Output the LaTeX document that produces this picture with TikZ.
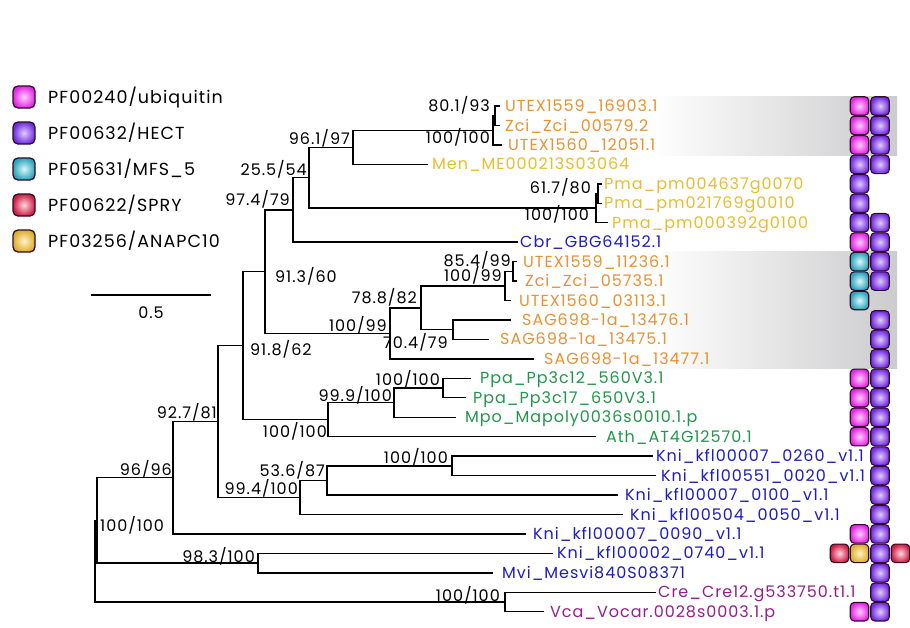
\documentclass[tikz,border=0pt]{standalone}
\usepackage{fontspec}
\setmainfont{Poppins}[LetterSpace=6]
\definecolor{cor}{RGB}{232,146,52}
\definecolor{cye}{RGB}{232,190,48}
\definecolor{cbl}{RGB}{30,30,190}
\definecolor{cgr}{RGB}{35,150,75}
\definecolor{cpu}{RGB}{150,30,140}
\definecolor{bandgray}{RGB}{204,204,206}
\definecolor{bord}{RGB}{45,10,40}
\begin{document}
\begin{tikzpicture}[x=1pt,y=-1pt,
  tree/.style={line width=1.4pt, line cap=rect, black},
  leaf/.style={anchor=base west, inner sep=0pt, font=\fontsize{16}{18}\selectfont},
  blab/.style={anchor=base east, inner sep=0pt, font=\fontsize{16}{18}\selectfont},
  blabl/.style={anchor=base west, inner sep=0pt, font=\fontsize{16}{18}\selectfont},
  dom/.style={draw=bord, line width=1.1pt, rounded corners=4pt, minimum width=18.5pt, minimum height=18.5pt, inner sep=0pt},
  legbox/.style={draw=bord, line width=1.3pt, rounded corners=5pt, minimum width=22pt, minimum height=22pt, inner sep=0pt},
  ubq/.style={inner color={rgb,255:red,255;green,205;blue,255}, outer color={rgb,255:red,228;green,40;blue,228}},
  hect/.style={inner color={rgb,255:red,225;green,205;blue,255}, outer color={rgb,255:red,115;green,45;blue,225}},
  mfs/.style={inner color={rgb,255:red,220;green,248;blue,252}, outer color={rgb,255:red,45;green,165;blue,185}},
  spry/.style={inner color={rgb,255:red,255;green,215;blue,225}, outer color={rgb,255:red,210;green,30;blue,70}},
  apc/.style={inner color={rgb,255:red,255;green,242;blue,205}, outer color={rgb,255:red,222;green,175;blue,45}},
  legtxt/.style={anchor=base west, inner sep=0pt, font=\fontsize{17.5}{19}\selectfont}
]
\fill[white] (0,0) rectangle (910,627);
\path[use as bounding box] (0,0) rectangle (910,627);
% bands
\shade[left color=white, right color=bandgray] (650,96.5) rectangle (897,155);
\shade[left color=white, right color=bandgray] (650,251.5) rectangle (897,368.5);
% legend
\node[legbox, ubq] (lg1) at (24,97) {};
\node[legbox, hect] (lg2) at (24,133) {};
\node[legbox, mfs] (lg3) at (24,169) {};
\node[legbox, spry] (lg4) at (24,205) {};
\node[legbox, apc] (lg5) at (24,241) {};
\node[legtxt] (lt1) at (48,103) {PF00240/ubiquitin};
\node[legtxt] (lt2) at (48,139) {PF00632/HECT};
\node[legtxt] (lt3) at (48,175) {PF05631/MFS\_5};
\node[legtxt] (lt4) at (48,211) {PF00622/SPRY};
\node[legtxt] (lt5) at (48,247) {PF03256/ANAPC10};
% scale bar
\coordinate (sb1) at (91,295);
\coordinate (sb2) at (211,295);
\draw[line width=1.8pt] (sb1) -- (sb2);
\node[anchor=base, inner sep=0pt, font=\fontsize{16}{18}\selectfont] (sbl) at (151,318) {0.5};
% internal nodes
\coordinate (B) at (495,115.7);
\coordinate (A) at (493,130.3);
\coordinate (N96) at (353,147.3);
\coordinate (P61) at (598,193.5);
\coordinate (P100) at (596,208.1);
\coordinate (N25) at (309,177.7);
\coordinate (N97) at (293,209.9);
\coordinate (Z85) at (513,271.3);
\coordinate (Z100) at (505,285.9);
\coordinate (S70) at (453,329.7);
\coordinate (N78) at (421,307.8);
\coordinate (N100L) at (390,333.3);
\coordinate (N91) at (265,271.6);
\coordinate (Ppa) at (443,388.0);
\coordinate (N999) at (394,402.6);
\coordinate (L100) at (328,419.6);
\coordinate (N918) at (243,345.6);
\coordinate (K100) at (452,465.8);
\coordinate (K53) at (327,480.4);
\coordinate (K99) at (300,497.4);
\coordinate (N927) at (218,421.5);
\coordinate (N96b) at (173,477.7);
\coordinate (N983) at (258,563.1);
\coordinate (R100) at (97,520.4);
\coordinate (CV) at (505,602.0);
\coordinate (root) at (95,561.2);
% tips
\coordinate (t1) at (499,106.0);
\coordinate (t2) at (499,125.45);
\coordinate (t3) at (501,144.9);
\coordinate (t4) at (427,164.35);
\coordinate (t5) at (601,183.8);
\coordinate (t6) at (601,203.25);
\coordinate (t7) at (607,222.7);
\coordinate (t8) at (517,242.15);
\coordinate (t9) at (516,261.6);
\coordinate (t10) at (516,281.05);
\coordinate (t11) at (510,300.5);
\coordinate (t12) at (510,319.95);
\coordinate (t13) at (488,339.4);
\coordinate (t14) at (533,358.85);
\coordinate (t15) at (470,378.3);
\coordinate (t16) at (465,397.75);
\coordinate (t17) at (455,417.2);
\coordinate (t18) at (595,436.65);
\coordinate (t19) at (652,456.1);
\coordinate (t20) at (655,475.55);
\coordinate (t21) at (617,495.0);
\coordinate (t22) at (622,514.45);
\coordinate (t23) at (525,533.9);
\coordinate (t24) at (552,553.35);
\coordinate (t25) at (492,572.8);
\coordinate (t26) at (655,592.25);
\coordinate (t27) at (543,611.7);
% branches
\foreach \p/\c in {root/R100, root/CV, R100/N96b, R100/N983, N96b/N927, N96b/t23,
  N927/N918, N927/K99, N918/N91, N918/L100, N91/N97, N91/N100L, N97/N25, N97/t8,
  N25/N96, N25/P100, N96/A, N96/t4, A/B, A/t3, B/t1, B/t2, P100/P61, P100/t7,
  P61/t5, P61/t6, N100L/N78, N100L/t14, N78/Z100, N78/S70, Z100/Z85, Z100/t11,
  Z85/t9, Z85/t10, S70/t12, S70/t13, L100/N999, L100/t18, N999/Ppa, N999/t17,
  Ppa/t15, Ppa/t16, K99/K53, K99/t22, K53/K100, K53/t21, K100/t19, K100/t20,
  N983/t24, N983/t25, CV/t26, CV/t27}
  \draw[tree] (\p) |- (\c);
% leaf labels
\node[leaf, text=cor] (l1) at (505,111.5) {UTEX1559\_16903.1};
\node[leaf, text=cor] (l2) at (505,131) {Zci\_Zci\_00579.2};
\node[leaf, text=cor] (l3) at (508,150.4) {UTEX1560\_12051.1};
\node[leaf, text=cye] (l4) at (432,169.9) {Men\_ME000213S03064};
\node[leaf, text=cye] (l5) at (604,189.3) {Pma\_pm004637g0070};
\node[leaf, text=cye] (l6) at (604,208.8) {Pma\_pm021769g0010};
\node[leaf, text=cye] (l7) at (612,228.2) {Pma\_pm000392g0100};
\node[leaf, text=cbl] (l8) at (520,247.7) {Cbr\_GBG64152.1};
\node[leaf, text=cor] (l9) at (523,267.1) {UTEX1559\_11236.1};
\node[leaf, text=cor] (l10) at (525,286.6) {Zci\_Zci\_05735.1};
\node[leaf, text=cor] (l11) at (519,306) {UTEX1560\_03113.1};
\node[leaf, text=cor] (l12) at (522,325.5) {SAG698-1a\_13476.1};
\node[leaf, text=cor] (l13) at (500,344.9) {SAG698-1a\_13475.1};
\node[leaf, text=cor] (l14) at (544,364.4) {SAG698-1a\_13477.1};
\node[leaf, text=cgr] (l15) at (480,383.8) {Ppa\_Pp3c12\_560V3.1};
\node[leaf, text=cgr] (l16) at (473,403.3) {Ppa\_Pp3c17\_650V3.1};
\node[leaf, text=cgr] (l17) at (465,422.7) {Mpo\_Mapoly0036s0010.1.p};
\node[leaf, text=cgr] (l18) at (606,442.2) {Ath\_AT4G12570.1};
\node[leaf, text=cbl] (l19) at (656,461.6) {Kni\_kfl00007\_0260\_v1.1};
\node[leaf, text=cbl] (l20) at (661,481.1) {Kni\_kfl00551\_0020\_v1.1};
\node[leaf, text=cbl] (l21) at (625,500.5) {Kni\_kfl00007\_0100\_v1.1};
\node[leaf, text=cbl] (l22) at (630,520) {Kni\_kfl00504\_0050\_v1.1};
\node[leaf, text=cbl] (l23) at (533,539.4) {Kni\_kfl00007\_0090\_v1.1};
\node[leaf, text=cbl] (l24) at (557,558.9) {Kni\_kfl00002\_0740\_v1.1};
\node[leaf, text=cbl] (l25) at (502,578.3) {Mvi\_Mesvi840S08371};
\node[leaf, text=cpu] (l26) at (658,597.8) {Cre\_Cre12.g533750.t1.1};
\node[leaf, text=cpu] (l27) at (550,617.2) {Vca\_Vocar.0028s0003.1.p};
% support labels
\node[blab] (s1) at (490,111) {80.1/93};
\node[blab] (s2) at (490,143) {100/100};
\node[blab] (s3) at (350,144.5) {96.1/97};
\node[blab] (s4) at (307,175.5) {25.5/54};
\node[blab] (s5) at (290,205) {97.4/79};
\node[blabl] (s6) at (275,282) {91.3/60};
\node[blab] (s7) at (591,193) {61.7/80};
\node[blab] (s8) at (589,220) {100/100};
\node[blab] (s9) at (511,266) {85.4/99};
\node[blab] (s10) at (502,281) {100/99};
\node[blab] (s11) at (417,303) {78.8/82};
\node[blab] (s12) at (387,331) {100/99};
\node[blabl] (s13) at (383,348) {70.4/79};
\node[blabl] (s14) at (250,355) {91.8/62};
\node[blab] (s15) at (440,385) {100/100};
\node[blab] (s16) at (392,401) {99.9/100};
\node[blab] (s17) at (217,418) {92.7/81};
\node[blab] (s18) at (327,437) {100/100};
\node[blab] (s19) at (172,475) {96/96};
\node[blab] (s20) at (448,463) {100/100};
\node[blab] (s21) at (325,476) {53.6/87};
\node[blab] (s22) at (298,494) {99.4/100};
\node[blabl] (s23) at (100,531) {100/100};
\node[blab] (s24) at (255,562) {98.3/100};
\node[blab] (s25) at (500,601) {100/100};
% domains
\foreach \n/\y in {1/106.0,2/125.45,3/144.9,8/242.15,15/378.3,16/397.75,17/417.2,18/436.65,23/533.9,27/611.7}
  \node[dom, ubq] (du\n) at (859.5,\y) {};
\foreach \n/\y in {4/164.35,5/183.8,6/203.25,7/222.7}
  \node[dom, hect] (dl\n) at (859.5,\y) {};
\foreach \n/\y in {9/261.6,10/281.05,11/300.5}
  \node[dom, mfs] (dm\n) at (859.5,\y) {};
\foreach \n/\y in {1/106.0,2/125.45,3/144.9,4/164.35,7/222.7,8/242.15,9/261.6,10/281.05,12/319.95,13/339.4,14/358.85,15/378.3,16/397.75,17/417.2,18/436.65,19/456.1,20/475.55,21/495.0,22/514.45,23/533.9,24/553.35,25/572.8,26/592.25,27/611.7}
  \node[dom, hect] (dh\n) at (880,\y) {};
\node[dom, spry] (ds1) at (839.5,553.35) {};
\node[dom, apc] (da1) at (859.5,553.35) {};
\node[dom, spry] (ds2) at (900.5,553.35) {};
\end{tikzpicture}
\end{document}
